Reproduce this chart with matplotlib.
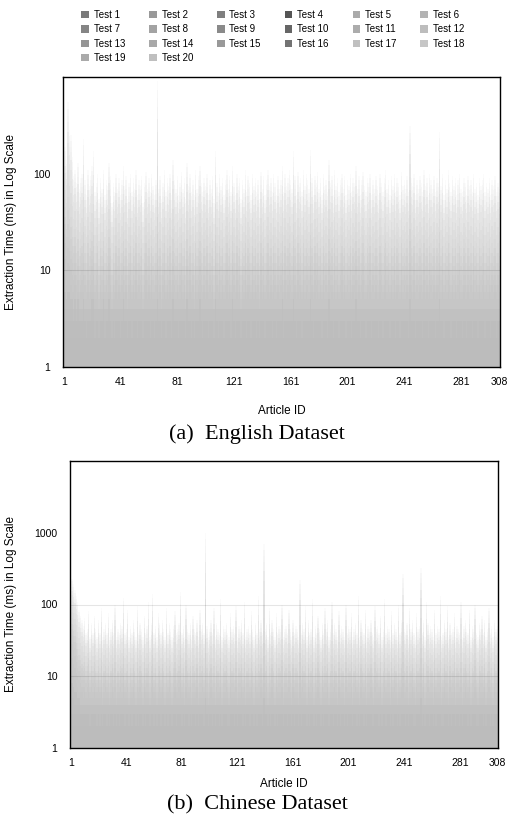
import numpy as np
import matplotlib
matplotlib.use('Agg')
import matplotlib.pyplot as plt
from matplotlib.patches import Patch

plt.rcParams['font.family'] = ['Liberation Sans', 'DejaVu Sans']

tests = ['Test %d' % i for i in range(1, 21)]
test_colors = ['#7a7a7a', '#999999', '#7f7f7f', '#555555', '#aaaaaa', '#b3b3b3',
               '#858585', '#a3a3a3', '#8a8a8a', '#666666', '#acacac', '#bdbdbd',
               '#959595', '#a8a8a8', '#999999', '#737373', '#c0c0c0', '#c6c6c6',
               '#aaaaaa', '#bfbfbf']
# where each test sits between the fastest (-1) and the slowest (+1) run of an article
test_pos = [-1.0, -0.85, -0.7, -0.55, -0.4, -0.25, -0.1, 0.0, 0.1, 0.2,
            0.3, 0.4, 0.5, 0.6, 0.7, 0.78, 0.85, 0.9, 0.95, 1.0]

articles = np.arange(1, 309)
xticks = [1, 41, 81, 121, 161, 201, 241, 281, 308]

# English dataset: slowest test and typical (middle) test per article, ms
en_peak = [
    260, 190, 140, 550, 280, 250, 150, 95, 110, 80, 130, 70, 90, 100, 230, 85, 60, 110, 75, 95,
    120, 170, 65, 80, 100, 55, 90, 70, 110, 60, 85, 75, 130, 95, 50, 80, 65, 100, 70, 90,
    60, 85, 120, 75, 95, 55, 80, 100, 65, 90, 70, 110, 60, 85, 75, 95, 50, 80, 105, 70,
    90, 65, 100, 75, 60, 85, 900, 70, 95, 55, 80, 110, 65, 90, 75, 100, 60, 140, 85, 70,
    95, 60, 80, 105, 70, 90, 55, 130, 75, 100, 65, 85, 60, 110, 70, 95, 120, 80, 65, 90,
    75, 100, 60, 85, 70, 95, 55, 170, 80, 65, 100, 75, 90, 60, 85, 110, 70, 95, 65, 120,
    80, 60, 100, 75, 90, 55, 85, 70, 110, 65, 95, 80, 60, 100, 75, 90, 65, 85, 55, 105,
    70, 95, 60, 85, 110, 75, 90, 65, 100, 80, 60, 95, 70, 85, 120, 65, 100, 75, 90, 110,
    85, 70, 170, 95, 60, 105, 80, 90, 65, 110, 75, 100, 85, 70, 175, 90, 60, 95, 80, 105,
    70, 90, 60, 100, 75, 85, 65, 140, 80, 95, 60, 110, 75, 90, 65, 85, 100, 70, 95, 60,
    85, 75, 100, 65, 90, 80, 120, 70, 95, 60, 85, 105, 75, 65, 90, 80, 100, 60, 85, 70,
    95, 75, 60, 100, 80, 65, 90, 110, 70, 85, 60, 95, 75, 100, 65, 90, 80, 60, 105, 75,
    85, 70, 95, 65, 310, 90, 75, 100, 60, 85, 70, 95, 80, 65, 110, 75, 90, 60, 100, 85,
    70, 95, 65, 90, 80, 270, 75, 100, 60, 85, 70, 110, 80, 65, 95, 75, 90, 60, 85, 100,
    70, 65, 90, 80, 60, 95, 75, 85, 65, 100, 70, 80, 60, 90, 75, 85, 100, 65, 80, 70,
    90, 60, 85, 75, 95, 65, 80, 70]
en_mid = [
    30, 24, 18, 22, 20, 16, 14, 12, 15, 10, 13, 9, 11, 12, 14, 10, 8, 12, 9, 11,
    13, 14, 8, 10, 12, 7, 11, 9, 13, 8, 10, 9, 14, 11, 7, 10, 8, 12, 9, 11,
    8, 10, 13, 9, 11, 7, 10, 12, 8, 11, 9, 12, 8, 10, 9, 11, 7, 10, 12, 9,
    11, 8, 12, 9, 8, 10, 16, 9, 11, 7, 10, 12, 8, 11, 9, 12, 8, 13, 10, 9,
    11, 8, 10, 12, 9, 11, 7, 13, 9, 12, 8, 10, 7, 12, 9, 11, 13, 10, 8, 11,
    9, 12, 8, 10, 9, 11, 7, 14, 10, 8, 12, 9, 11, 8, 10, 12, 9, 11, 8, 13,
    10, 8, 12, 9, 11, 7, 10, 9, 12, 8, 11, 10, 8, 12, 9, 11, 8, 10, 7, 12,
    9, 11, 8, 10, 12, 9, 11, 8, 12, 10, 8, 11, 9, 10, 13, 8, 12, 9, 11, 12,
    10, 9, 14, 11, 8, 12, 10, 11, 8, 12, 9, 11, 10, 9, 14, 11, 8, 12, 10, 12,
    9, 11, 8, 12, 9, 10, 8, 13, 10, 11, 8, 12, 9, 11, 8, 10, 12, 9, 11, 8,
    10, 9, 12, 8, 11, 10, 13, 9, 11, 8, 10, 12, 9, 8, 11, 10, 12, 8, 10, 9,
    11, 9, 8, 12, 10, 8, 11, 12, 9, 10, 8, 11, 9, 12, 8, 11, 10, 8, 12, 9,
    10, 9, 11, 8, 15, 11, 9, 12, 8, 10, 9, 11, 10, 8, 12, 9, 11, 8, 12, 10,
    9, 11, 8, 11, 10, 14, 9, 12, 8, 10, 9, 12, 10, 8, 11, 9, 11, 8, 10, 12,
    9, 8, 11, 10, 8, 11, 9, 10, 8, 12, 9, 10, 8, 11, 9, 10, 12, 8, 10, 9,
    11, 8, 10, 9, 11, 8, 10, 9]

# Chinese dataset
zh_peak = [
    280, 230, 190, 160, 130, 110, 85, 70, 60, 50, 65, 40, 45, 80, 35, 55, 40, 70, 45, 35,
    60, 40, 90, 35, 45, 55, 40, 75, 35, 45, 60, 40, 100, 35, 45, 40, 55, 50, 125, 40,
    45, 85, 35, 50, 40, 60, 45, 35, 95, 40, 55, 45, 35, 70, 40, 50, 110, 35, 55, 140,
    40, 50, 35, 75, 55, 40, 60, 45, 35, 90, 40, 55, 45, 35, 50, 80, 40, 45, 55, 150,
    40, 50, 35, 100, 45, 40, 55, 35, 70, 45, 40, 60, 35, 85, 45, 55, 40, 1000, 50, 35,
    45, 60, 40, 90, 35, 55, 45, 40, 120, 35, 50, 45, 55, 40, 35, 75, 45, 50, 40, 95,
    35, 50, 45, 60, 40, 110, 35, 45, 50, 40, 80, 45, 35, 55, 40, 130, 45, 60, 40, 700,
    45, 55, 35, 90, 40, 60, 45, 35, 75, 40, 50, 45, 100, 35, 45, 50, 40, 85, 45, 35,
    60, 40, 50, 45, 35, 220, 40, 55, 45, 95, 35, 60, 40, 45, 120, 35, 50, 40, 70, 45,
    35, 55, 40, 90, 45, 60, 35, 45, 110, 40, 55, 45, 35, 80, 40, 50, 45, 35, 100, 40,
    50, 45, 75, 35, 45, 55, 40, 130, 35, 60, 45, 40, 85, 35, 50, 45, 60, 40, 35, 95,
    45, 50, 40, 70, 35, 45, 120, 40, 50, 45, 35, 80, 40, 55, 45, 35, 100, 40, 60, 270,
    45, 40, 55, 35, 90, 45, 60, 40, 35, 75, 45, 50, 320, 40, 60, 35, 110, 55, 40, 50,
    45, 35, 85, 40, 50, 45, 130, 35, 40, 60, 45, 95, 35, 55, 40, 45, 75, 35, 50, 45,
    40, 110, 35, 50, 60, 45, 40, 85, 35, 50, 45, 100, 40, 35, 55, 45, 70, 40, 60, 35,
    45, 90, 40, 50, 35, 60, 45, 50]
zh_mid = [
    45, 38, 30, 25, 20, 16, 14, 12, 11, 10, 11, 9, 10, 12, 8, 10, 9, 11, 9, 8,
    10, 8, 11, 7, 9, 10, 8, 9, 7, 9, 11, 8, 10, 7, 9, 8, 10, 9, 12, 8,
    9, 10, 7, 9, 8, 11, 9, 7, 10, 8, 10, 9, 7, 11, 8, 9, 9, 7, 10, 12,
    8, 9, 7, 9, 10, 8, 11, 9, 7, 9, 8, 10, 9, 7, 9, 11, 8, 9, 10, 12,
    8, 9, 7, 11, 9, 8, 10, 7, 9, 9, 8, 11, 7, 9, 9, 10, 8, 14, 9, 7,
    9, 11, 8, 9, 7, 10, 9, 8, 11, 7, 9, 9, 10, 8, 7, 11, 9, 9, 8, 10,
    7, 9, 9, 11, 8, 10, 7, 9, 9, 8, 11, 9, 7, 10, 8, 9, 9, 11, 8, 13,
    9, 10, 7, 9, 8, 11, 9, 7, 10, 8, 9, 9, 11, 7, 9, 9, 8, 10, 9, 7,
    11, 8, 9, 9, 7, 12, 8, 10, 9, 9, 7, 11, 8, 9, 10, 7, 9, 8, 11, 9,
    7, 10, 8, 9, 9, 11, 7, 9, 9, 8, 10, 9, 7, 11, 8, 9, 9, 7, 10, 8,
    9, 9, 11, 7, 9, 10, 8, 9, 7, 11, 9, 8, 10, 7, 9, 9, 11, 8, 7, 10,
    9, 9, 8, 11, 7, 9, 10, 8, 9, 9, 7, 11, 8, 10, 9, 7, 9, 8, 11, 12,
    9, 8, 10, 7, 9, 9, 11, 8, 7, 10, 9, 9, 13, 8, 11, 7, 9, 10, 8, 9,
    9, 7, 11, 8, 9, 9, 10, 7, 8, 11, 9, 9, 7, 10, 8, 9, 11, 7, 9, 9,
    8, 10, 7, 9, 11, 9, 8, 10, 7, 9, 9, 11, 8, 7, 10, 9, 9, 8, 11, 7,
    9, 10, 8, 9, 7, 11, 9, 9]

for name, arr in [('en_peak', en_peak), ('en_mid', en_mid), ('zh_peak', zh_peak), ('zh_mid', zh_mid)]:
    assert len(arr) == 308, (name, len(arr))


def build_table(mid, peak):
    mid = np.array(mid, dtype=float)
    peak = np.array(peak, dtype=float)
    rows = []
    for p in test_pos:
        if p >= 0:
            v = mid * (peak / mid) ** p
        else:
            v = mid * (mid / 2.0) ** p
        rows.append(np.maximum(np.round(v), 1))
    return rows


def draw_panel(ax, rows, ymax, yticks, grid):
    for vals, c in zip(rows, test_colors):
        ax.bar(articles, vals - 1, bottom=1, width=1.0, color=c, alpha=0.05, linewidth=0)
    for g in grid:
        ax.axhline(g, color='black', alpha=0.1, lw=0.8)
    ax.set_yscale('log')
    ax.set_ylim(1, ymax)
    ax.set_xlim(0.5, 308.5)
    ax.set_yticks(yticks)
    ax.set_yticklabels([str(t) for t in yticks])
    ax.minorticks_off()
    ax.set_xticks(xticks)
    ax.set_xticklabels([str(t) for t in xticks])
    ax.tick_params(length=0, labelsize=7.5)
    ax.tick_params(axis='y', pad=9)
    ax.tick_params(axis='x', pad=7)
    for s in ax.spines.values():
        s.set_linewidth(1.0)
    ax.set_xlabel('Article ID', fontsize=8.5)
    ax.set_ylabel('Extraction Time (ms) in Log Scale', fontsize=8.5)


fig = plt.figure(figsize=(5.08, 8.24), dpi=100)
ax1 = fig.add_axes([63 / 508, 1 - 367 / 824, 437 / 508, 290 / 824])
ax2 = fig.add_axes([70 / 508, 1 - 748 / 824, 428 / 508, 287 / 824])

draw_panel(ax1, build_table(en_mid, en_peak), 1000, [1, 10, 100], [10])
draw_panel(ax2, build_table(zh_mid, zh_peak), 10000, [1, 10, 100, 1000], [10, 100])
ax1.yaxis.set_label_coords(-0.105, 0.5)
ax1.xaxis.set_label_coords(0.5, -0.131)
ax2.yaxis.set_label_coords(-0.124, 0.5)
ax2.xaxis.set_label_coords(0.5, -0.104)

fig.text(0.506, 1 - 434 / 824, '(a)  English Dataset', family='Liberation Serif',
         fontsize=16, ha='center', va='center')
fig.text(0.506, 1 - 805 / 824, '(b)  Chinese Dataset', family='Liberation Serif',
         fontsize=16, ha='center', va='center')

# legend is filled column by column, so reorder to read row by row
order = [0, 6, 12, 18, 1, 7, 13, 19, 2, 8, 14, 3, 9, 15, 4, 10, 16, 5, 11, 17]
handles = [Patch(facecolor=test_colors[i], edgecolor='none', label=tests[i]) for i in order]
fig.legend(handles=handles, ncol=6, loc='upper left', bbox_to_anchor=(81 / 508, 1 - 10 / 824),
           frameon=False, fontsize=7, handlelength=0.8, handleheight=0.8,
           handletextpad=0.5, columnspacing=2.45, labelspacing=0.45,
           borderpad=0, borderaxespad=0)

fig.savefig('out.png', dpi=100)
